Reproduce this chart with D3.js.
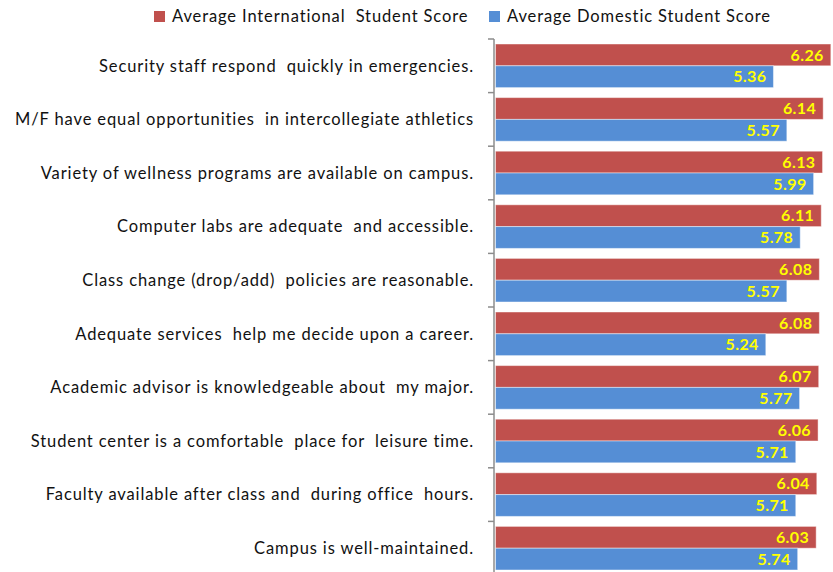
<!DOCTYPE html>
<html>
<head>
<meta charset="utf-8">
<script src="https://cdn.jsdelivr.net/npm/d3@7"></script>
<style>
    body { margin: 0; background: #fff; }
    text { white-space: pre; }
</style>
</head>
<body>
<div id="chart-area"></div>
<script>
const categories = [
    'Security staff respond  quickly in emergencies.',
    'M/F have equal opportunities  in intercollegiate athletics',
    'Variety of wellness programs are available on campus.',
    'Computer labs are adequate  and accessible.',
    'Class change (drop/add)  policies are reasonable.',
    'Adequate services  help me decide upon a career.',
    'Academic advisor is knowledgeable about  my major.',
    'Student center is a comfortable  place for  leisure time.',
    'Faculty available after class and  during office  hours.',
    'Campus is well-maintained.'
];
const seriesNames = ['Average International  Student Score', 'Average Domestic Student Score'];
const internationalScores = [6.26, 6.14, 6.13, 6.11, 6.08, 6.08, 6.07, 6.06, 6.04, 6.03];
const domesticScores = [5.36, 5.57, 5.99, 5.78, 5.57, 5.24, 5.77, 5.71, 5.71, 5.74];
const xDomain = [1, 7];

const colors = ['#c0504d', '#558ed5'];

const w = 833;
const h = 572;

const svg = d3.select('#chart-area')
    .append('svg')
    .attr('width', w)
    .attr('height', h);

const rows = categories.map((c, i) => ({
    label: c,
    values: [internationalScores[i], domesticScores[i]]
}));

const x = d3.scaleLinear()
    .domain(xDomain)
    .range([495.5, 878]);

const y0 = d3.scaleBand()
    .domain(categories)
    .range([39, 575]);

const y1 = d3.scaleBand()
    .domain([0, 1])
    .range([5, y0.bandwidth() - 5]);

// axis: line plus ticks on the group boundaries
const axisG = svg.append('g');
axisG.append('line')
    .attr('x1', 494).attr('x2', 494)
    .attr('y1', y0.range()[0]).attr('y2', y0.range()[1])
    .attr('stroke', '#8c8c8c')
    .attr('stroke-width', 1.5);

const boundaries = categories.map((c) => y0(c)).concat([y0.range()[1]]);
axisG.selectAll('.tick')
    .data(boundaries)
    .enter()
    .append('line')
    .attr('x1', 488).attr('x2', 494)
    .attr('y1', (d) => d).attr('y2', (d) => d)
    .attr('stroke', '#8c8c8c')
    .attr('stroke-width', 1.5);

const groups = svg.selectAll('.row')
    .data(rows)
    .enter()
    .append('g')
    .attr('transform', (d) => `translate(0,${y0(d.label)})`);

groups.append('text')
    .attr('x', 474)
    .attr('y', y0.bandwidth() / 2)
    .attr('dy', '0.35em')
    .attr('text-anchor', 'end')
    .style('font-family', 'Lato, sans-serif')
    .style('font-size', '16.5px')
    .style('letter-spacing', '0.88px')
    .attr('fill', '#111')
    .text((d) => d.label);

const bars = groups.selectAll('.bar')
    .data((d) => d.values.map((v, k) => ({ v, k })))
    .enter();

bars.append('rect')
    .attr('x', x(xDomain[0]))
    .attr('y', (d) => y1(d.k))
    .attr('width', (d) => x(d.v) - x(xDomain[0]))
    .attr('height', y1.bandwidth())
    .attr('fill', (d) => colors[d.k])
    .attr('stroke', 'rgba(255,255,255,0.45)')
    .attr('stroke-width', 1);

bars.append('text')
    .attr('x', (d) => x(d.v) - 7)
    .attr('y', (d) => y1(d.k) + y1.bandwidth() / 2)
    .attr('dy', '0.36em')
    .attr('text-anchor', 'end')
    .style('font-family', 'Lato, sans-serif')
    .style('font-weight', 'bold')
    .style('font-size', '16px')
    .style('letter-spacing', '0.4px')
    .attr('fill', '#ffff00')
    .text((d) => d.v.toFixed(2));

// legend
const legend = svg.append('g');
const legendX = [154, 489];
seriesNames.forEach((name, k) => {
    legend.append('rect')
        .attr('x', legendX[k])
        .attr('y', 11)
        .attr('width', 11)
        .attr('height', 11)
        .attr('fill', colors[k]);
    legend.append('text')
        .attr('x', legendX[k] + 18)
        .attr('y', 22)
        .style('font-family', 'Lato, sans-serif')
        .style('font-size', '16.5px')
        .style('letter-spacing', '0.88px')
        .attr('fill', '#111')
        .text(name);
});
</script>
</body>
</html>
